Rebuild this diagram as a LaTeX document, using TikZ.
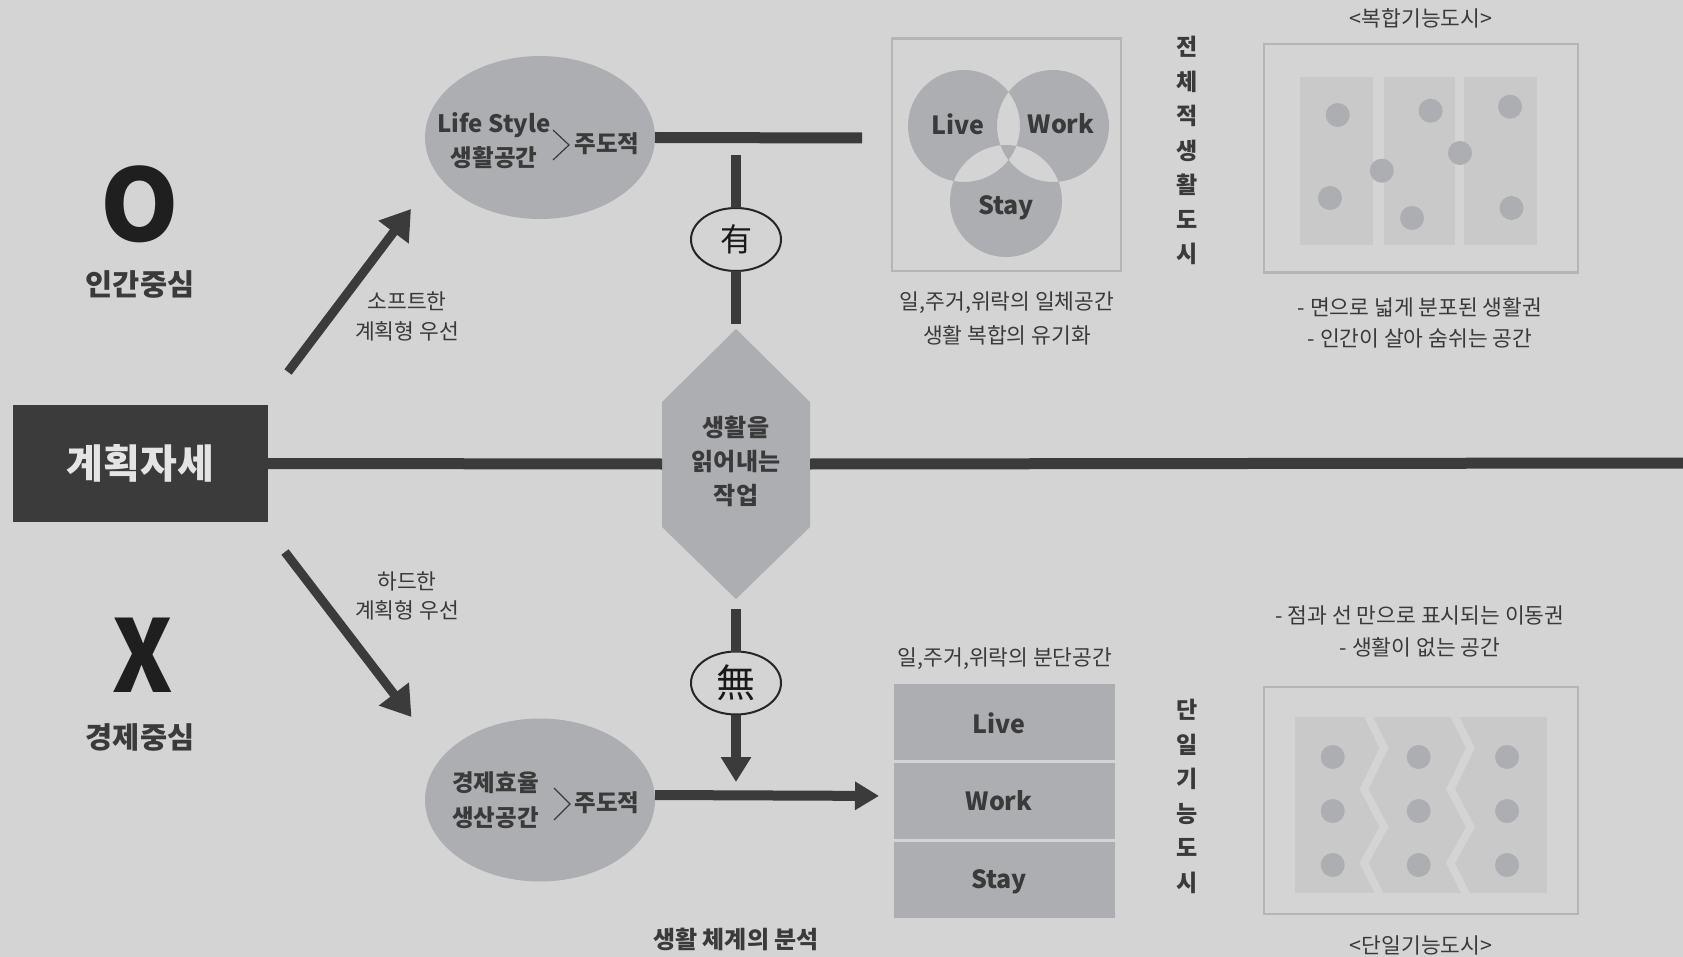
\documentclass[tikz,border=0pt]{standalone}
\usepackage{fontspec}
\setmainfont{Noto Sans CJK KR}
\usetikzlibrary{arrows.meta,shapes.geometric}
\definecolor{bg}{HTML}{D4D4D4}
\definecolor{shapec}{HTML}{ADAEB1}
\definecolor{dark}{HTML}{3A3B3A}
\definecolor{txt}{HTML}{3A3A3A}
\definecolor{framec}{HTML}{B4B5B8}
\definecolor{panelc}{HTML}{C9C9CA}
\definecolor{boxtxt}{HTML}{E4E4E4}
\newcommand\fsz[1]{\fontsize{#1}{#1}\selectfont}
\begin{document}
\begin{tikzpicture}[x=1pt,y=-1pt,
  every node/.style={inner sep=0pt, outer sep=0pt, text=txt},
  lab/.style={font=\fsz{21.5}},
  bld/.style={font=\fsz{#1}\bfseries},
  conn/.style={draw=dark, line width=10pt},
  bigarrow/.style={draw=dark, line width=9pt, -{Triangle[length=29pt,width=36pt]}},
  frame/.style={draw=framec, line width=2.5pt},
  blob/.style={ellipse, fill=shapec, minimum width=230pt, minimum height=163pt},
  ring/.style={ellipse, draw=black!85, line width=2pt, fill=bg, minimum width=90pt, minimum height=63pt, text=black!90},
  stackbox/.style={fill=shapec, minimum width=220.5pt, minimum height=76pt},
  chev/.style={draw=txt, line width=1.2pt},
  dot/.style={fill=shapec}
]
\useasboundingbox (0,0) rectangle (1683,957);
\fill[bg] (0,0) rectangle (1683,957);

% left labels
\node[font=\fsz{100}\bfseries, text=black!88] (o) at (140,204) {O};
\node[bld=29.5] (human) at (140,284) {인간중심};
\node[font=\fsz{100}\bfseries, text=black!88, xscale=0.92] (xx) at (143,655) {X};
\node[bld=29.5] (econ) at (140,737) {경제중심};

% main box
\node[fill=dark, minimum width=255pt, minimum height=117pt, text=boxtxt, font=\fsz{40}\bfseries] (plan) at (140.5,463.5) {계획자세};

% hexagon
\node[minimum width=148pt, minimum height=270pt] (hex) at (736,464) {};
\fill[shapec] (hex.north) -- (810,402) -- (810,527) -- (hex.south) -- (662,527) -- (662,402) -- cycle;
\node[align=center, font=\fontsize{24}{34}\selectfont\bfseries] (hextxt) at (736,461) {생활을\\읽어내는\\작업};

\coordinate (rend) at (1683,463);
\draw[conn, line width=11pt] (plan.east) -- (hex.west);
\draw[conn, line width=11pt] (hex.east) -- (rend);

% top ellipse
\node[blob] (topell) at (540,137.5) {};
\node[bld=24] (ls) at (494,125) {Life Style};
\node[bld=23.5] (lsk) at (494,158) {생활공간};
\draw[chev] (553,130) -- (569,145) -- (553,160);
\node[bld=23.5] (lead1) at (607,144) {주도적};
\coordinate (tend) at (862,138);
\draw[conn, line width=11pt] (topell.east) -- (tend);

% bottom ellipse
\node[blob] (botell) at (540,800) {};
\node[bld=23.5] (ee) at (495.5,783) {경제효율};
\node[bld=23.5] (pp) at (495.5,818) {생산공간};
\draw[chev] (554,788) -- (570,804) -- (554,820);
\node[bld=23.5] (lead2) at (607,803) {주도적};

% diagonal arrows
\coordinate (d1s) at (288,372);
\coordinate (d1e) at (411,209);
\draw[bigarrow] (d1s) -- (d1e);
\coordinate (d2s) at (285,552);
\coordinate (d2e) at (411.5,717);
\draw[bigarrow] (d2s) -- (d2e);
\node[lab] (soft1) at (407,301) {소프트한};
\node[lab] (soft2) at (407,331) {계획형 우선};
\node[lab] (hard1) at (407,581) {하드한};
\node[lab] (hard2) at (407,610) {계획형 우선};

% yes / no
\node[ring, font=\fsz{32}] (you) at (736,239.5) {有};
\coordinate (vtop) at (736,155);
\draw[conn] (vtop) -- (you.north);
\draw[conn, shorten >=5pt] (you.south) -- (hex.north);

\node[ring, font=\fsz{39}] (mu) at (736,683) {無};
\draw[conn, shorten <=10pt] (hex.south) -- (mu.north);
\coordinate (vtip) at (736,782);
\draw[conn, -{Triangle[length=25pt,width=29pt]}] (mu.south) -- (vtip);

% stacked boxes
\node[stackbox] (live) at (1004.25,722) {};
\node[stackbox] (work) at (1004.25,801) {};
\node[stackbox] (stay) at (1004.25,879.75) {};
\node[bld=25] (livel) at (999,723) {Live};
\node[bld=25] (workl) at (999,801) {Work};
\node[bld=25] (stayl) at (999,882) {Stay};
\draw[conn, -{Triangle[length=24pt,width=27pt]}, shorten >=15pt] ([yshift=5pt]botell.east) -- ([yshift=5pt]work.west);
\node[lab] (split) at (1005,659) {일,주거,위락의 분단공간};

% venn
\node[frame, minimum width=229pt, minimum height=232.5pt] (vbox) at (1006.5,154.7) {};
\fill[shapec, even odd rule] (964,126) circle[radius=56] (1053,126) circle[radius=56] (1006,201) circle[radius=56];
\node[bld=25] (vlive) at (958,124) {Live};
\node[bld=25] (vwork) at (1061,124) {Work};
\node[bld=25] (vstay) at (1006,208) {Stay};
\node[lab] (cap1) at (1007,303) {일,주거,위락의 일체공간};
\node[lab] (cap2) at (1007,335) {생활 복합의 유기화};

% vertical titles
\node[align=center, font=\fontsize{23}{34.5}\selectfont\bfseries] (vt1) at (1187,150.5) {전\\체\\적\\생\\활\\도\\시};
\node[align=center, font=\fontsize{23}{34.6}\selectfont\bfseries] (vt2) at (1187,796.5) {단\\일\\기\\능\\도\\시};

% complex city box
\node[lab] (h1) at (1421,18) {<복합기능도시>};
\node[frame, minimum width=314pt, minimum height=228.5pt] (cbox) at (1421,158.5) {};
\fill[panelc] (1300,77) rectangle (1373,245);
\fill[panelc] (1384,77) rectangle (1455,245);
\fill[panelc] (1464,77) rectangle (1537,245);
\foreach \p in {(1337.7,115),(1430.6,110.7),(1510,106.7),(1460,153),(1381.8,170.7),(1330,198),(1412,218),(1511.5,208)}
  \fill[dot] \p circle[radius=12];
\node[lab] (cc1) at (1420,307) {- 면으로 넓게 분포된 생활권};
\node[lab] (cc2) at (1420,338) {- 인간이 살아 숨쉬는 공간};

% single city box
\node[lab] (sc1) at (1420,615) {- 점과 선 만으로 표시되는 이동권};
\node[lab] (sc2) at (1420,647) {- 생활이 없는 공간};
\node[frame, minimum width=314pt, minimum height=227pt] (sbox) at (1421,800.5) {};
\fill[panelc] (1295,717) rectangle (1547,893);
\begin{scope}
\clip (1295,717) rectangle (1547,893);
\foreach \dx in {0,86.5}
  \draw[bg, line width=8pt, line join=miter] ([xshift=\dx pt]1364,707.5) -- ([xshift=\dx pt]1384,748) -- ([xshift=\dx pt]1364,789) -- ([xshift=\dx pt]1384,827) -- ([xshift=\dx pt]1364,863) -- ([xshift=\dx pt]1384,903);
\end{scope}
\foreach \xx in {1332.7,1418.7,1507}
  \foreach \yy in {757,811,865}
    \fill[dot] (\xx,\yy) circle[radius=12];
\node[lab] (h2) at (1421,945) {<단일기능도시>};

\node[bld=24] (anal) at (736,939) {생활 체계의 분석};
\end{tikzpicture}
\end{document}
